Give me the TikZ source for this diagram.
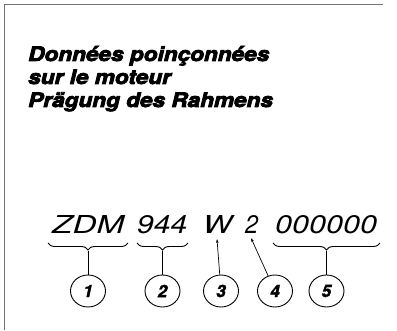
\documentclass[tikz,border=0pt]{standalone}
\usepackage{fontspec}
\usepackage{graphicx}
\usetikzlibrary{decorations.pathreplacing,shapes.geometric,arrows.meta}
\newfontfamily\titlefont[BoldItalicFeatures={FakeStretch=1.13,FakeBold=4}]{TeX Gyre Heros}
\newfontfamily\codefont{TeX Gyre Heros}
\newfontfamily\numfont[BoldItalicFeatures={FakeBold=2}]{TeX Gyre Heros}
\tikzset{
  frameline/.style={draw=black!55, line width=0.8pt},
  titletext/.style={anchor=base west, inner sep=0pt, font=\titlefont\bfseries\itshape\fontsize{20}{23}\selectfont},
  codetext/.style={anchor=south west, inner sep=0pt, font=\codefont\itshape},
  bracedec/.style={draw, line width=0.9pt, decorate, decoration={brace, mirror, amplitude=7pt}},
  numc/.style={draw, ellipse, line width=0.9pt, minimum width=35pt, minimum height=32pt, inner sep=0pt, font=\numfont\bfseries\itshape\fontsize{17}{17}\selectfont},
  lead/.style={line width=0.8pt},
  arr/.style={line width=0.7pt, -{Stealth[length=4pt,width=2.6pt]}}
}
\begin{document}
\begin{tikzpicture}[x=1pt,y=-1pt]
\useasboundingbox (0,0) rectangle (397,331);
\draw[frameline] (4,330) -- (4,4) -- (383,4);
\node[titletext] (t1) at (28,61) {Données poinçonnées};
\node[titletext] (t2) at (28,84) {sur le moteur};
\node[titletext] (t3) at (28,107) {Prägung des Rahmens};
% code line
\node[codetext] (g1) at (52,234) {\resizebox{72pt}{18pt}{ZDM}};
\node[codetext] (g2) at (137,234) {\resizebox{50pt}{18pt}{944}};
\node[codetext] (g3) at (203,234) {\resizebox{29pt}{18pt}{W}};
\node[codetext] (g4) at (245,234) {\resizebox{13pt}{18pt}{2}};
\node[codetext] (g5) at (275,234) {\resizebox{102pt}{18pt}{000000}};
% braces
\draw[bracedec] (48,243) -- (128,243);
\draw[bracedec] (137,243) -- (188,243);
\draw[bracedec] (273,243) -- (380,243);
\coordinate (b1) at (88,251);
\coordinate (b2) at (162.5,251);
\coordinate (b5) at (326.5,251);
\coordinate (a3) at (217,239);
\coordinate (a4) at (251,238);
% circles
\node[numc] (c1) at (88,291) {1};
\node[numc] (c2) at (162.5,291) {2};
\node[numc] (c3) at (221,291) {3};
\node[numc] (c4) at (275,291) {4};
\node[numc] (c5) at (326.5,291) {5};
\draw[lead] (b1) -- (c1);
\draw[lead] (b2) -- (c2);
\draw[lead] (b5) -- (c5);
\draw[arr] (c3) -- (a3);
\draw[arr] (c4) -- (a4);
\end{tikzpicture}
\end{document}
